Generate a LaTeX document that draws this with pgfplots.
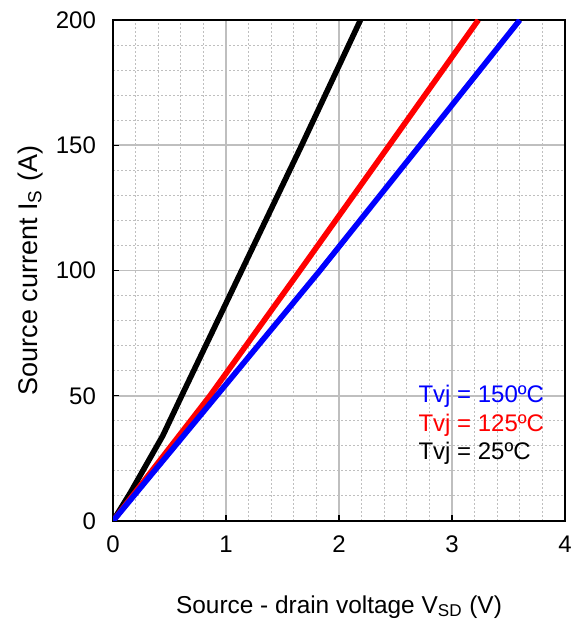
\documentclass[border=0pt]{standalone}
\usepackage{pgfplots}
\pgfplotsset{compat=1.18}
\usepackage{fontspec}
\setmainfont{Liberation Sans}
\begin{document}
\begin{tikzpicture}
\useasboundingbox[fill=white] (-56.5pt,-54.5pt) rectangle (232pt,260.5pt);
\begin{axis}[
  at={(0,0)}, anchor=south west,
  scale only axis,
  width=226pt, height=250.5pt,
  xmin=0, xmax=4, ymin=0, ymax=200,
  xtick={0,1,2,3,4}, ytick={0,50,100,150,200},
  minor x tick num=4, minor y tick num=4,
  grid=both,
  major grid style={draw=black!25, line width=0.9pt},
  minor grid style={draw=black!25, dash pattern=on 1.2pt off 0.8pt, line width=0.45pt},
  axis line style={black, line width=1.4pt},
  tick align=inside,
  xtick pos=bottom, ytick pos=left,
  major tick length=3pt, minor tick length=0pt,
  tick style={black, line width=0.6pt},
  ticklabel style={font=\fontsize{12}{14}\selectfont},
  /pgf/number format/assume math mode=true,
  xticklabel style={yshift=-4pt},
  yticklabel style={xshift=-5pt},
  xlabel={Source - drain voltage V\textsubscript{SD} (V)},
  ylabel={Source current I\textsubscript{S} (A)},
  xlabel style={at={(axis description cs:0.5,-0.1717)}, anchor=center, font=\fontsize{12.2}{15}\selectfont},
  ylabel style={at={(axis description cs:-0.1836,0.5)}, anchor=center, font=\fontsize{13.5}{16}\selectfont},
  clip=true,
]
\addplot[black, line width=2.8pt, line join=round] coordinates {
 (0,0) (0.15,11) (0.44,34) (0.608,50) (1.139,100) (1.67,150) (2.19,200)};
\addplot[red, line width=2.8pt, line join=round] coordinates {
 (0,0) (0.858,50) (1.655,100) (2.445,150) (3.233,200)};
\addplot[blue, line width=2.8pt, line join=round] coordinates {
 (0,0) (0.917,50) (1.832,100) (2.717,150) (3.60,200)};
\node[anchor=west, text=blue, font=\fontsize{12}{14}\selectfont, inner sep=0pt] at (axis cs:2.70,49.9) {Tvj = 150ºC};
\node[anchor=west, text=red, font=\fontsize{12}{14}\selectfont, inner sep=0pt] at (axis cs:2.70,38.3) {Tvj = 125ºC};
\node[anchor=west, text=black, font=\fontsize{12}{14}\selectfont, inner sep=0pt] at (axis cs:2.70,27.1) {Tvj = 25ºC};
\end{axis}
\end{tikzpicture}
\end{document}
